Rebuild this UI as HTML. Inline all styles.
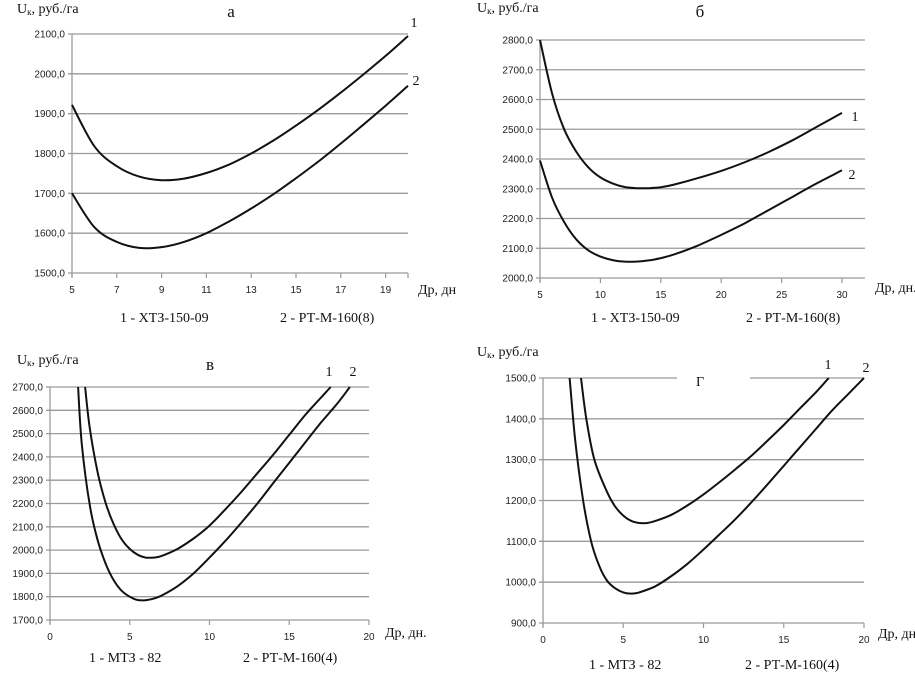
<!DOCTYPE html>
<html><head><meta charset="utf-8"><style>
body{margin:0;background:#fff;}
svg{display:block;}
.tick{font-family:"Liberation Sans",sans-serif;font-size:10px;fill:#222;}
.lab{font-family:"Liberation Serif","Noto Serif CJK SC",serif;font-size:14px;fill:#111;}
.ttl{font-family:"Liberation Serif","Noto Serif CJK SC",serif;font-size:17px;fill:#111;}
</style></head><body>
<svg id="chart" width="915" height="678" viewBox="0 0 915 678" xmlns="http://www.w3.org/2000/svg"></svg>
<script>
// Panel a
const aX1=[5,6,7,8,9,10,11,12,13,14,15,16,17,18,19,20];
const aY1=[1922,1818,1768,1742,1733,1737,1751,1772,1800,1833,1870,1910,1953,1998,2045,2095];
const aX2=[5,6,7,8,9,10,11,12,13,14,15,16,17,18,19,20];
const aY2=[1700,1615,1578,1563,1565,1578,1600,1629,1662,1698,1738,1780,1825,1872,1920,1970];
const aXTicks=[5,7,9,11,13,15,17,19];
const aYTicks=[1500,1600,1700,1800,1900,2000,2100];
// Panel b
const bX1=[5,6,7,8,9,10,11,12,13,14,15,16,18,20,22,24,26,28,30];
const bY1=[2800,2620,2500,2425,2372,2338,2318,2306,2302,2302,2305,2313,2335,2360,2390,2425,2465,2510,2555];
const bX2=[5,6,7,8,9,10,11,12,13,14,15,16,18,20,22,24,26,28,30];
const bY2=[2395,2270,2188,2130,2093,2072,2060,2055,2055,2059,2067,2078,2108,2145,2185,2230,2275,2320,2362];
const bXTicks=[5,10,15,20,25,30];
const bYTicks=[2000,2100,2200,2300,2400,2500,2600,2700,2800];
// Panel c
const cX1=[2.2,2.5,3,3.5,4,4.5,5,5.5,6,6.5,7,8,9,10,11,12,13,14,15,16,17,17.6];
const cY1=[2700,2520,2330,2200,2110,2045,2005,1980,1968,1968,1975,2005,2050,2105,2175,2250,2330,2410,2495,2580,2655,2700];
const cX2=[1.76,2,2.5,3,3.5,4,4.5,5,5.5,6,6.5,7,8,9,10,11,12,13,14,15,16,17,18,18.8];
const cY2=[2700,2450,2190,2040,1940,1870,1825,1800,1786,1785,1792,1805,1845,1900,1968,2040,2118,2200,2288,2375,2462,2548,2628,2700];
const cXTicks=[0,5,10,15,20];
const cYTicks=[1700,1800,1900,2000,2100,2200,2300,2400,2500,2600,2700];
// Panel d
const dX1=[2.37,2.7,3.2,4,4.5,5,5.5,6,6.5,7,8,9,10,11,12,13,14,15,16,17,17.8];
const dY1=[1500,1400,1300,1220,1185,1163,1150,1145,1145,1150,1165,1188,1215,1245,1277,1310,1347,1385,1425,1465,1500];
const dX2=[1.66,2,2.5,3,3.5,4,4.5,5,5.5,6,7,8,9,10,11,12,13,14,15,16,17,18,19,20];
const dY2=[1500,1350,1200,1100,1040,1003,985,975,972,975,990,1015,1045,1080,1117,1155,1196,1240,1285,1330,1375,1420,1460,1500];
const dXTicks=[0,5,10,15,20];
const dYTicks=[900,1000,1100,1200,1300,1400,1500];

const NS="http://www.w3.org/2000/svg";
const svg=document.getElementById('chart');
function mk(tag,attrs,parent){const e=document.createElementNS(NS,tag);for(const k in attrs)e.setAttribute(k,attrs[k]);(parent||svg).appendChild(e);return e;}
function fmt(v){return v.toFixed(1).replace('.',',');}
function spline(pts){let d='M'+pts[0][0].toFixed(1)+','+pts[0][1].toFixed(1);
 for(let i=0;i<pts.length-1;i++){const p0=pts[i-1]||pts[i],p1=pts[i],p2=pts[i+1],p3=pts[i+2]||p2;
  const c1=[p1[0]+(p2[0]-p0[0])/6,p1[1]+(p2[1]-p0[1])/6],c2=[p2[0]-(p3[0]-p1[0])/6,p2[1]-(p3[1]-p1[1])/6];
  d+=' C'+c1[0].toFixed(1)+','+c1[1].toFixed(1)+' '+c2[0].toFixed(1)+','+c2[1].toFixed(1)+' '+p2[0].toFixed(1)+','+p2[1].toFixed(1);}
 return d;}
function panel(o){
 const g=mk('g',{});
 
 
 const sx=v=>o.px0+(v-o.x0)*(o.px1-o.px0)/(o.x1-o.x0);
 const sy=v=>o.py0+(v-o.y0)*(o.py1-o.py0)/(o.y1-o.y0);
 const right=sx(o.xEnd), bottom=sy(o.yTicks[0]);
 o.yTicks.forEach((t,i)=>{
  const l=mk('line',{x1:sx(o.xTicks[0])-4,x2:right,y1:sy(t),y2:sy(t),stroke:'#9a9a9a','stroke-width':1.3},g);
  
  
  const tx=mk('text',{x:sx(o.xTicks[0])-7,y:sy(t)+3.5,'text-anchor':'end',class:'tick'},g);tx.textContent=fmt(t);
  
  
 });
 const ax=mk('line',{x1:sx(o.xTicks[0]),x2:sx(o.xTicks[0]),y1:sy(o.yTicks[o.yTicks.length-1]),y2:bottom+4,stroke:'#9a9a9a','stroke-width':1.3},g);
 
 
 const tks=o.xTicks.concat(o.extraTick!==undefined?[o.extraTick]:[]);
 tks.forEach(t=>{mk('line',{x1:sx(t),x2:sx(t),y1:bottom,y2:bottom+5,stroke:'#9a9a9a','stroke-width':1.2},g);});
 o.xTicks.forEach(t=>{
  const tx=mk('text',{x:sx(t),y:bottom+20,'text-anchor':'middle',class:'tick'},g);tx.textContent=t;
  
  
 });
 if(o.titleBox){const r=mk('rect',{x:o.titleBox[0],y:o.titleBox[1],width:o.titleBox[2],height:o.titleBox[3],fill:'#fff'},g);}
 [[o.X1,o.Y1,'series-1'],[o.X2,o.Y2,'series-2']].forEach(([X,Y,n])=>{
  const p=mk('path',{d:spline(X.map((x,i)=>[sx(x),sy(Y[i])])),fill:'none',stroke:'#111','stroke-width':2},g);
  
  
 });
 o.texts.forEach(t=>{const e=mk('text',{x:t[0],y:t[1],class:t[3]||'lab','text-anchor':t[4]||'start'},g);e.innerHTML=t[2];
  
  });
}
const ylab='U<tspan font-size="9" dy="2">к</tspan><tspan dy="-2">, руб./га</tspan>';
panel({name:'panel-a',x0:5,x1:20,px0:72,px1:408,xEnd:20,y0:2100,y1:1500,py0:34,py1:273,xTicks:aXTicks,extraTick:20,yTicks:aYTicks,X1:aX1,Y1:aY1,X2:aX2,Y2:aY2,
 texts:[[17,13,ylab,'lab','start','y-axis-title'],[231,17,'а','ttl','middle','panel-title'],[414,27,'1','lab','middle','curve-label-1'],[416,85,'2','lab','middle','curve-label-2'],
 [418,294,'Др, дн','lab','start','x-axis-title'],[120,322,'1 - ХТЗ-150-09','lab','start','legend-entry-1'],[280,322,'2 - РТ-М-160(8)','lab','start','legend-entry-2']]});
panel({name:'panel-b',x0:5,x1:30,px0:540,px1:842,xEnd:31.9,y0:2800,y1:2000,py0:40,py1:278,xTicks:bXTicks,yTicks:bYTicks,X1:bX1,Y1:bY1,X2:bX2,Y2:bY2,
 texts:[[477,12,ylab,'lab','start','y-axis-title'],[700,17,'б','ttl','middle','panel-title'],[855,121,'1','lab','middle','curve-label-1'],[852,179,'2','lab','middle','curve-label-2'],
 [875,292,'Др, дн.','lab','start','x-axis-title'],[591,322,'1 - ХТЗ-150-09','lab','start','legend-entry-1'],[746,322,'2 - РТ-М-160(8)','lab','start','legend-entry-2']]});
panel({name:'panel-c',x0:0,x1:20,px0:50,px1:369,xEnd:20,y0:2700,y1:1700,py0:387,py1:620,xTicks:cXTicks,yTicks:cYTicks,X1:cX1,Y1:cY1,X2:cX2,Y2:cY2,
 texts:[[17,364,ylab,'lab','start','y-axis-title'],[210,370,'в','ttl','middle','panel-title'],[329,376,'1','lab','middle','curve-label-1'],[353,376,'2','lab','middle','curve-label-2'],
 [385,637,'Др, дн.','lab','start','x-axis-title'],[89,662,'1 -  МТЗ - 82','lab','start','legend-entry-1'],[243,662,'2 - РТ-М-160(4)','lab','start','legend-entry-2']]});
panel({name:'panel-d',x0:0,x1:20,px0:543,px1:864,xEnd:20,y0:1500,y1:900,py0:378,py1:623,xTicks:dXTicks,yTicks:dYTicks,X1:dX1,Y1:dY1,X2:dX2,Y2:dY2,titleBox:[677,372,73,12],
 texts:[[477,356,ylab,'lab','start','y-axis-title'],[700,386,'Г','lab','middle','panel-title'],[828,369,'1','lab','middle','curve-label-1'],[866,372,'2','lab','middle','curve-label-2'],
 [878,638,'Др, дн.','lab','start','x-axis-title'],[589,669,'1 -  МТЗ - 82','lab','start','legend-entry-1'],[745,669,'2 - РТ-М-160(4)','lab','start','legend-entry-2']]});
</script>
</body></html>
